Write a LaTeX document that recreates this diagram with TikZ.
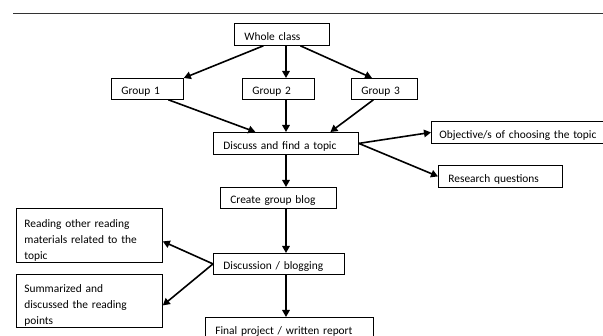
\documentclass[tikz,border=0pt]{standalone}
\usepackage{fontspec}
\setmainfont{Carlito}
\usetikzlibrary{arrows.meta,calc}

\tikzset{
  stepbox/.style={draw,line width=0.8pt,anchor=north west,inner xsep=10pt,inner ysep=0pt,
    align=left,font=\fontsize{11.4}{16}\selectfont,text height=12pt,text depth=0pt,minimum height=22pt},
  notebox/.style={stepbox,inner xsep=8pt,text height=16pt,text depth=32pt,minimum height=54pt},
  flow/.style={line width=1.6pt,-{Triangle[length=7pt,width=7.5pt]}}
}

\begin{document}
\begin{tikzpicture}[x=1pt,y=-1pt]
        \useasboundingbox (0,0) rectangle (603,336);
        \draw[line width=0.8pt,black!80] (13,13) -- (603,13);
        % boxes
        \node[stepbox,minimum width=95pt,text width=75pt] (whole) at (234,23) {Whole class};
        \node[stepbox,minimum width=72pt,text width=52pt,minimum height=21pt] (g1) at (111,78) {Group 1};
        \node[stepbox,minimum width=72pt,text width=52pt,minimum height=21pt] (g2) at (242,78) {Group 2};
        \node[stepbox,minimum width=66pt,text width=46pt,minimum height=21pt] (g3) at (351,78) {Group 3};
        \node[stepbox,minimum width=145pt,text width=125pt] (disc) at (213,132) {Discuss and find a topic};
        \node[stepbox,minimum width=190pt,text width=174pt,inner xsep=8pt] (obj) at (431,121) {Objective/s of choosing the topic};
        \node[stepbox,minimum width=124pt,text width=104pt] (research) at (438,165) {Research questions};
        \node[stepbox,minimum width=116pt,text width=96pt,minimum height=21pt] (create) at (220,187) {Create group blog};
        \node[notebox,minimum width=146pt,text width=130pt] (reading) at (16,208) {Reading other reading\\materials related to the\\topic};
        \node[notebox,minimum width=146pt,text width=130pt,minimum height=53pt] (summ) at (16,274) {Summarized and\\discussed the reading\\points};
        \node[stepbox,minimum width=131pt,text width=111pt,minimum height=21pt] (dblog) at (213,253) {Discussion / blogging};
        \node[stepbox,minimum width=168pt,text width=148pt] (final) at (205,317) {Final project / written report};
        % arrows
        \coordinate (spine) at (286,0);
        \draw[flow] ([xshift=-18.5pt]whole.south) -- (g1.north east);
        \draw[flow] (spine |- whole.south) -- (spine |- g2.north);
        \draw[flow] ([xshift=18.5pt]whole.south) -- ([xshift=21pt]g3.north west);
        \draw[flow] ([xshift=21pt]g1.south) -- ([xshift=-30.5pt]disc.north);
        \draw[flow] (spine |- g2.south) -- (spine |- disc.north);
        \draw[flow] ([xshift=-11pt]g3.south) -- ([xshift=44.5pt]disc.north);
        \draw[flow] (disc.east) -- (obj.west);
        \draw[flow] (disc.east) -- (research.west);
        \draw[flow] (spine |- disc.south) -- (spine |- create.north);
        \draw[flow] (spine |- create.south) -- (spine |- dblog.north);
        \draw[flow] (dblog.west) -- ([yshift=-6pt]reading.east);
        \draw[flow] (dblog.west) -- ([yshift=-4.5pt]summ.east);
        \draw[flow] (spine |- dblog.south) -- (spine |- final.north);
    \end{tikzpicture}
\end{document}
